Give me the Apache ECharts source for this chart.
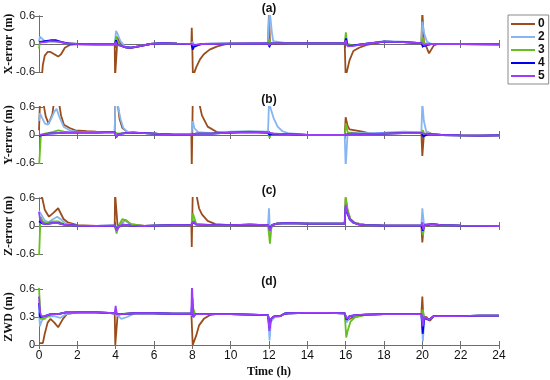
<!DOCTYPE html>
<html>
<head>
<meta charset="utf-8">
<script src="https://cdn.jsdelivr.net/npm/echarts@6/dist/echarts.min.js"></script>
<style>html,body{margin:0;padding:0;background:#fff}#c{width:550px;height:380px}</style>
</head>
<body>
<div id="c"></div>
<script>
// ---- data: [time (h), value (m)] ----
const timeTicks = [0,2,4,6,8,10,12,14,16,18,20,22,24];
const seriesNames = ['0','2','3','4','5'];
const panelTitles = ['(a)','(b)','(c)','(d)'];
const panelYNames = ['X-error (m)','Y-error (m)','Z-error (m)','ZWD (m)'];

// Panel (a) X-error
const xErr0 = [[0,-0.7],[0.15,-0.7],[0.2,-0.45],[0.3,-0.25],[0.45,-0.17],[0.6,-0.17],[0.8,-0.22],[1.0,-0.27],[1.15,-0.22],[1.35,-0.08],[1.6,-0.02],[2,0.0],[3,-0.01],[3.95,-0.01],[3.97,-0.7],[4.05,-0.7],[4.1,0.15],[4.2,0.05],[4.4,-0.06],[4.8,-0.09],[5.2,-0.05],[5.8,0.0],[6.5,0.02],[7.2,0.01],[7.95,0.0],[7.97,0.35],[8.0,-0.1],[8.03,-0.7],[8.1,-0.7],[8.2,-0.5],[8.4,-0.33],[8.6,-0.22],[8.9,-0.12],[9.3,-0.05],[9.8,0.0],[10,0.01],[11.95,0.015],[12.0,0.7],[12.05,0.0],[13,0.015],[15.95,0.015],[16.0,-0.7],[16.1,-0.7],[16.2,-0.35],[16.4,-0.15],[16.7,-0.08],[17.1,-0.02],[18,0.05],[19,0.04],[19.95,0.02],[20.0,0.7],[20.08,0.05],[20.2,-0.05],[20.35,-0.2],[20.45,-0.18],[20.6,-0.03],[20.8,0.0],[22,0.0],[24,-0.005]];
const xErr2 = [[0,0.05],[0.05,0.16],[0.15,0.12],[0.3,0.06],[0.6,0.06],[1.0,0.05],[1.4,0.02],[2,0.0],[3,-0.01],[3.95,-0.01],[4.02,0.28],[4.1,0.22],[4.25,0.06],[4.5,-0.06],[4.8,-0.08],[5.2,-0.05],[5.8,0.0],[6.5,0.02],[7.2,0.01],[7.95,0.0],[8.02,0.05],[8.1,-0.03],[8.5,0.0],[10,0.01],[11.95,0.015],[12.02,0.7],[12.08,0.55],[12.15,0.25],[12.22,0.06],[12.3,0.02],[13,0.015],[15.95,0.015],[16.03,0.08],[16.15,-0.04],[16.4,-0.03],[17,0.0],[18,0.06],[19,0.05],[19.95,0.02],[20.0,0.48],[20.1,0.22],[20.25,0.04],[20.5,0.0],[22,0.0],[24,-0.005]];
const xErr3 = [[0,-0.1],[0.05,0.05],[0.3,0.04],[0.6,0.06],[1.0,0.05],[1.4,0.02],[2,0.0],[3,-0.01],[3.95,-0.01],[4.03,0.17],[4.1,0.05],[4.25,-0.03],[4.5,-0.07],[4.8,-0.08],[5.2,-0.05],[5.8,0.0],[6.5,0.02],[7.2,0.01],[7.95,0.0],[8.03,-0.03],[8.15,-0.06],[8.3,-0.02],[8.5,0.0],[10,0.01],[11.95,0.015],[12.02,0.1],[12.08,0.02],[12.2,0.015],[13,0.015],[15.95,0.015],[16.01,0.25],[16.08,0.0],[16.4,-0.03],[17,0.0],[18,0.05],[19,0.04],[19.95,0.02],[20.02,0.15],[20.1,0.0],[20.5,0.0],[22,0.0],[24,-0.005]];
const xErr4 = [[0,0.04],[0.3,0.06],[0.6,0.08],[0.9,0.08],[1.2,0.04],[1.6,0.01],[2,0.0],[3,-0.01],[3.95,-0.01],[4.02,0.08],[4.08,-0.02],[4.2,-0.03],[4.5,-0.07],[4.8,-0.08],[5.2,-0.05],[5.8,0.0],[6.5,0.02],[7.2,0.01],[7.95,0.0],[8.02,-0.12],[8.1,-0.05],[8.5,0.0],[10,0.01],[11.95,0.015],[12.02,-0.06],[12.1,0.015],[13,0.015],[15.95,0.015],[16.02,0.12],[16.1,-0.04],[16.4,-0.03],[17,0.0],[18,0.05],[19,0.04],[19.95,0.02],[20.02,-0.05],[20.1,-0.02],[20.5,0.0],[22,0.0],[24,-0.005]];
const xErr5 = [[0,0.03],[0.3,0.04],[0.6,0.06],[1.0,0.05],[1.4,0.02],[2,0.0],[3,-0.01],[3.95,-0.01],[4.0,0.05],[4.05,-0.02],[4.2,-0.03],[4.5,-0.07],[4.8,-0.08],[5.2,-0.05],[5.8,0.0],[6.5,0.02],[7.2,0.01],[7.95,0.0],[8.0,-0.04],[8.1,-0.02],[8.5,0.0],[10,0.01],[11.95,0.015],[12.0,-0.03],[12.1,0.015],[13,0.015],[15.95,0.015],[16.0,0.08],[16.1,-0.05],[16.4,-0.04],[17,0.0],[18,0.05],[19,0.04],[19.95,0.02],[20.0,0.06],[20.1,-0.02],[20.5,0.0],[22,0.0],[24,-0.005]];

// Panel (b) Y-error
const yErr0 = [[0,0.1],[0.05,0.7],[0.22,0.7],[0.35,0.4],[0.5,0.24],[0.6,0.27],[0.7,0.45],[0.78,0.7],[1.04,0.7],[1.15,0.42],[1.3,0.22],[1.6,0.15],[1.9,0.1],[2.5,0.08],[3,0.07],[3.95,0.06],[3.98,0.7],[4.1,0.7],[4.2,0.35],[4.35,0.15],[4.6,0.07],[5,0.05],[6,0.03],[7,0.01],[7.95,0.01],[7.97,-0.7],[8.02,0.7],[8.35,0.7],[8.5,0.42],[8.8,0.18],[9.3,0.06],[10,0.05],[11,0.06],[11.95,0.05],[12.03,0.02],[12.2,0.03],[13,0.02],[14,0.0],[15,0.0],[15.95,0.0],[16.0,0.38],[16.1,0.2],[16.2,0.12],[16.8,0.08],[17.2,0.04],[18,0.03],[19,0.04],[19.95,0.04],[20.0,-0.45],[20.08,0.0],[20.3,0.06],[20.5,0.02],[21,0.0],[22,-0.01],[23,-0.015],[24,-0.01]];
const yErr2 = [[0,0.3],[0.05,0.47],[0.15,0.38],[0.3,0.25],[0.45,0.22],[0.6,0.32],[0.8,0.5],[0.92,0.56],[1.05,0.4],[1.3,0.17],[1.6,0.1],[2,0.07],[3,0.06],[3.95,0.06],[3.98,0.7],[4.12,0.62],[4.25,0.35],[4.4,0.15],[4.6,0.07],[5,0.05],[6,0.03],[7,0.01],[7.95,0.01],[8.03,0.3],[8.1,0.15],[8.3,0.06],[9,0.04],[10,0.07],[11,0.08],[11.95,0.07],[12.0,0.7],[12.1,0.55],[12.25,0.35],[12.45,0.18],[12.7,0.08],[13,0.04],[14,0.0],[15,0.0],[15.95,0.0],[16.0,-0.7],[16.06,-0.7],[16.1,0.04],[16.3,0.05],[17,0.04],[18,0.05],[19,0.07],[19.95,0.06],[20.0,0.7],[20.08,0.3],[20.2,0.08],[20.4,0.03],[21,0.0],[22,-0.01],[23,-0.015],[24,-0.01]];
const yErr3 = [[0,-0.7],[0.05,-0.7],[0.1,0.0],[0.3,0.03],[0.7,0.06],[1.0,0.1],[1.3,0.07],[1.6,0.05],[2,0.05],[3,0.05],[3.95,0.06],[4.03,0.1],[4.1,0.03],[4.5,0.04],[5,0.05],[6,0.03],[7,0.01],[7.95,0.01],[8.03,0.05],[8.2,0.03],[9,0.03],[10,0.06],[11,0.07],[11.95,0.05],[12.03,-0.06],[12.1,0.02],[12.2,0.03],[13,0.02],[14,0.0],[15,0.0],[15.95,0.0],[16.02,0.25],[16.1,0.06],[16.3,0.04],[17,0.02],[18,0.03],[19,0.05],[19.95,0.05],[20.03,0.1],[20.1,0.02],[20.3,0.02],[21,0.0],[22,-0.01],[23,-0.015],[24,-0.01]];
const yErr4 = [[0,-0.02],[0.1,0.01],[0.5,0.03],[1.0,0.04],[1.5,0.05],[2,0.05],[3,0.05],[3.95,0.06],[4.03,-0.05],[4.15,0.02],[4.5,0.04],[5,0.05],[6,0.03],[7,0.01],[7.95,0.01],[8.03,-0.02],[8.2,0.03],[9,0.03],[10,0.05],[11,0.06],[11.95,0.05],[12.03,0.0],[12.2,0.03],[13,0.02],[14,0.0],[15,0.0],[15.95,0.0],[16.05,0.04],[16.3,0.03],[17,0.02],[18,0.03],[19,0.04],[19.95,0.04],[20.05,-0.03],[20.3,0.02],[21,0.0],[22,-0.01],[23,-0.015],[24,-0.01]];
const yErr5 = [[0,0.0],[0.1,0.02],[0.5,0.03],[1.0,0.04],[1.5,0.05],[2,0.05],[3,0.05],[3.95,0.06],[4.03,-0.04],[4.15,0.02],[4.5,0.04],[5,0.05],[6,0.03],[7,0.01],[7.95,0.01],[8.03,-0.01],[8.2,0.03],[9,0.03],[10,0.05],[11,0.06],[11.95,0.05],[12.03,0.02],[12.2,0.03],[13,0.02],[14,0.0],[15,0.0],[15.95,0.0],[16.05,0.02],[16.3,0.03],[17,0.02],[18,0.03],[19,0.04],[19.95,0.04],[20.05,0.0],[20.3,0.02],[21,0.0],[22,-0.01],[23,-0.015],[24,-0.01]];

// Panel (c) Z-error
const zErr0 = [[0,0.7],[0.17,0.6],[0.3,0.35],[0.52,0.2],[0.75,0.28],[1.0,0.38],[1.1,0.35],[1.28,0.15],[1.5,0.08],[2,0.02],[3,0.0],[3.95,0.01],[3.97,0.7],[4.05,0.7],[4.1,0.0],[4.3,0.06],[4.5,0.13],[4.8,0.04],[5.5,0.0],[6,0.01],[7,0.02],[7.95,0.02],[7.97,-0.45],[8.02,0.7],[8.2,0.7],[8.35,0.38],[8.5,0.25],[8.8,0.11],[9.2,0.04],[10,0.02],[11,0.03],[11.95,0.02],[12.05,-0.05],[12.2,0.03],[12.4,0.05],[13,0.06],[14,0.05],[15,0.05],[15.95,0.05],[16.0,0.6],[16.1,0.32],[16.25,0.13],[16.5,0.06],[17,0.03],[18,0.01],[19,0.01],[19.95,0.01],[20.0,-0.35],[20.07,0.0],[20.5,0.04],[21,0.02],[22,0.01],[24,0.0]];
const zErr2 = [[0,0.32],[0.1,0.26],[0.3,0.12],[0.5,0.08],[0.7,0.14],[0.95,0.2],[1.15,0.14],[1.4,0.05],[2,0.01],[3,0.0],[3.95,0.01],[4.05,-0.05],[4.15,0.0],[4.35,0.1],[4.55,0.1],[4.8,0.02],[5.5,0.0],[6,0.01],[7,0.02],[7.95,0.02],[8.03,0.15],[8.2,0.04],[9,0.02],[10,0.02],[11,0.03],[11.95,0.02],[12.0,0.38],[12.05,-0.15],[12.12,0.0],[12.4,0.05],[13,0.06],[14,0.05],[15,0.05],[15.95,0.05],[16.0,0.5],[16.1,0.3],[16.25,0.14],[16.5,0.06],[17,0.02],[18,0.01],[19,0.01],[19.95,0.01],[20.0,0.38],[20.08,0.05],[20.5,0.04],[21,0.02],[22,0.01],[24,0.0]];
const zErr3 = [[0,-0.7],[0.04,-0.7],[0.08,0.2],[0.2,0.1],[0.4,0.06],[0.7,0.1],[1.0,0.1],[1.3,0.04],[2,0.01],[3,0.0],[3.95,0.01],[4.05,-0.16],[4.15,0.0],[4.35,0.15],[4.55,0.12],[4.8,0.03],[5.5,0.0],[6,0.01],[7,0.02],[7.95,0.02],[8.03,0.27],[8.2,0.05],[9,0.02],[10,0.02],[11,0.03],[11.95,0.02],[12.05,-0.38],[12.12,-0.05],[12.2,0.02],[12.4,0.05],[13,0.06],[14,0.05],[15,0.05],[15.95,0.05],[16.0,0.62],[16.1,0.35],[16.25,0.15],[16.5,0.06],[17,0.02],[18,0.01],[19,0.01],[19.95,0.01],[20.03,-0.2],[20.1,0.0],[20.5,0.04],[21,0.02],[22,0.01],[24,0.0]];
const zErr4 = [[0,0.1],[0.05,0.12],[0.2,0.05],[0.4,0.04],[0.7,0.06],[1.0,0.06],[1.3,0.03],[2,0.01],[3,0.0],[3.95,0.01],[4.05,-0.08],[4.15,-0.02],[4.4,0.03],[4.8,0.01],[5.5,0.0],[6,0.01],[7,0.02],[7.95,0.02],[8.05,0.08],[8.2,0.03],[9,0.02],[10,0.02],[11,0.03],[11.95,0.02],[12.05,-0.06],[12.15,0.02],[12.4,0.05],[13,0.06],[14,0.05],[15,0.05],[15.95,0.05],[16.0,0.4],[16.1,0.26],[16.2,0.15],[16.4,0.07],[16.7,0.03],[17,0.02],[18,0.01],[19,0.01],[19.95,0.01],[20.02,-0.1],[20.12,0.02],[20.5,0.04],[21,0.02],[22,0.01],[24,0.0]];
const zErr5 = [[0,0.3],[0.05,0.15],[0.2,0.06],[0.4,0.04],[0.7,0.06],[1.0,0.06],[1.3,0.03],[2,0.01],[3,0.0],[3.95,0.01],[4.05,-0.1],[4.15,-0.02],[4.4,0.03],[4.8,0.01],[5.5,0.0],[6,0.01],[7,0.02],[7.95,0.02],[8.05,0.1],[8.2,0.03],[9,0.02],[10,0.02],[11,0.03],[11.95,0.02],[12.05,-0.1],[12.15,0.02],[12.4,0.05],[13,0.06],[14,0.05],[15,0.05],[15.95,0.05],[16.0,0.45],[16.1,0.28],[16.2,0.16],[16.4,0.07],[16.7,0.03],[17,0.02],[18,0.01],[19,0.01],[19.95,0.01],[20.0,0.08],[20.05,-0.08],[20.12,0.02],[20.5,0.04],[21,0.02],[22,0.01],[24,0.0]];

// Panel (d) ZWD
const zwd0 = [[0,0.02],[0.2,0.02],[0.3,0.12],[0.45,0.24],[0.6,0.28],[0.8,0.24],[1.0,0.19],[1.1,0.2],[1.25,0.28],[1.45,0.33],[2,0.35],[3,0.35],[3.95,0.34],[3.98,0.0],[4.05,0.0],[4.1,0.32],[4.3,0.33],[5,0.34],[6,0.34],[7,0.335],[7.95,0.335],[8.02,0.0],[8.12,0.0],[8.2,0.1],[8.35,0.21],[8.6,0.28],[8.9,0.32],[9.2,0.33],[10,0.33],[11,0.325],[11.95,0.32],[12.05,0.25],[12.2,0.3],[12.6,0.31],[12.8,0.335],[13,0.34],[14,0.345],[15,0.345],[15.95,0.34],[16.05,0.26],[16.3,0.29],[16.7,0.31],[17,0.325],[18,0.33],[19,0.33],[19.95,0.33],[20.0,0.52],[20.05,0.3],[20.2,0.3],[20.4,0.26],[20.6,0.31],[21,0.31],[22,0.31],[23,0.315],[24,0.315]];
const zwd2 = [[0,0.35],[0.05,0.2],[0.12,0.25],[0.3,0.3],[0.8,0.31],[1.1,0.29],[1.4,0.33],[2,0.35],[3,0.35],[3.95,0.34],[4.05,0.33],[4.3,0.28],[4.6,0.3],[5,0.34],[6,0.34],[7,0.335],[7.95,0.335],[8.05,0.3],[8.15,0.33],[9,0.33],[10,0.33],[11,0.325],[11.95,0.32],[12.03,0.05],[12.1,0.25],[12.3,0.3],[12.6,0.31],[12.8,0.335],[13,0.34],[14,0.345],[15,0.345],[15.95,0.34],[16.05,0.24],[16.2,0.3],[16.5,0.32],[17,0.325],[18,0.33],[19,0.33],[19.95,0.33],[20.03,0.04],[20.1,0.28],[20.35,0.27],[20.6,0.31],[21,0.31],[22,0.31],[23,0.315],[24,0.315]];
const zwd3 = [[0,0.62],[0.06,0.62],[0.08,0.28],[0.3,0.28],[0.45,0.31],[0.8,0.33],[1.0,0.33],[1.4,0.35],[2,0.35],[3,0.35],[3.95,0.34],[4.03,0.36],[4.1,0.33],[5,0.34],[6,0.34],[7,0.335],[7.95,0.335],[8.03,0.4],[8.15,0.33],[9,0.33],[10,0.33],[11,0.325],[11.95,0.32],[12.03,0.22],[12.1,0.28],[12.3,0.31],[12.6,0.31],[12.8,0.335],[13,0.34],[14,0.345],[15,0.345],[15.95,0.34],[16.03,0.08],[16.1,0.15],[16.25,0.25],[16.5,0.3],[17,0.32],[18,0.33],[19,0.33],[19.95,0.33],[20.02,0.38],[20.1,0.3],[20.35,0.27],[20.6,0.31],[21,0.31],[22,0.31],[23,0.315],[24,0.315]];
const zwd4 = [[0,0.45],[0.05,0.3],[0.15,0.3],[0.3,0.31],[0.6,0.33],[1.0,0.33],[1.4,0.35],[2,0.35],[3,0.35],[3.95,0.34],[4.02,0.38],[4.05,0.33],[4.3,0.33],[5,0.34],[6,0.34],[7,0.335],[7.95,0.335],[8.0,0.5],[8.05,0.3],[8.15,0.33],[9,0.33],[10,0.33],[11,0.325],[11.95,0.32],[12.02,0.18],[12.1,0.28],[12.3,0.31],[12.6,0.31],[12.8,0.335],[13,0.34],[14,0.345],[15,0.345],[15.95,0.34],[16.05,0.27],[16.2,0.31],[16.5,0.32],[17,0.325],[18,0.33],[19,0.33],[19.95,0.33],[20.02,0.12],[20.1,0.29],[20.35,0.27],[20.6,0.31],[21,0.31],[22,0.31],[23,0.315],[24,0.315]];
const zwd5 = [[0,0.52],[0.05,0.35],[0.15,0.3],[0.3,0.31],[0.6,0.33],[1.0,0.33],[1.4,0.35],[2,0.35],[3,0.35],[3.95,0.34],[4.0,0.42],[4.05,0.33],[4.3,0.33],[5,0.34],[6,0.34],[7,0.335],[7.95,0.335],[7.98,0.65],[8.05,0.3],[8.15,0.33],[9,0.33],[10,0.33],[11,0.325],[11.95,0.32],[12.02,0.15],[12.1,0.28],[12.3,0.31],[12.6,0.31],[12.8,0.335],[13,0.34],[14,0.345],[15,0.345],[15.95,0.34],[16.05,0.28],[16.2,0.31],[16.5,0.32],[17,0.325],[18,0.33],[19,0.33],[19.95,0.33],[20.02,0.2],[20.1,0.3],[20.2,0.29],[20.35,0.27],[20.6,0.31],[21,0.31],[22,0.31],[23,0.315],[24,0.315]];

const panelData = [
  [xErr0, xErr2, xErr3, xErr4, xErr5],
  [yErr0, yErr2, yErr3, yErr4, yErr5],
  [zErr0, zErr2, zErr3, zErr4, zErr5],
  [zwd0, zwd2, zwd3, zwd4, zwd5]
];
const yRanges = [[-0.6,0.6,0.6],[-0.6,0.6,0.6],[-0.6,0.6,0.6],[0,0.6,0.3]];

// ---- styles ----
const colors = ['#9a4d1c','#86b6f2','#66bf1e','#0000ee','#9b3dfb'];
const axisColor = '#6e6e6e';
const textColor = '#111';
const sans = '"Liberation Sans", Arial, sans-serif';
const serif = '"Liberation Serif", "Times New Roman", serif';
const gridTops = [16, 107, 198, 289];
const gridH = 56;

const chart = echarts.init(document.getElementById('c'), null, {renderer:'canvas'});
const grid = [], xAxis = [], yAxis = [], series = [], graphic = [];
for (let i = 0; i < 4; i++) {
  grid.push({left: 39, right: 51, top: gridTops[i], height: gridH, show: false, containLabel: false, outerBoundsMode: 'none'});
  const tickCommon = {show: true, inside: true, length: 4, lineStyle: {color: axisColor, width: 1}};
  xAxis.push({
    type: 'value', gridIndex: i, min: 0, max: 24, interval: 2, position: 'bottom',
    axisLine: {show: true, lineStyle: {color: axisColor, width: 1}},
    axisTick: tickCommon,
    axisLabel: {show: i === 3, color: textColor, fontSize: 12, fontFamily: sans, margin: 5},
    splitLine: {show: false},
    name: i === 3 ? 'Time (h)' : '', nameLocation: 'middle', nameGap: 21, nameMoveOverlap: false,
    nameTextStyle: {fontFamily: serif, fontWeight: 'bold', fontSize: 12, color: textColor}
  });
  xAxis.push({
    type: 'value', gridIndex: i, min: 0, max: 24, interval: 2, position: 'top',
    axisLine: {show: true, lineStyle: {color: axisColor, width: 1}},
    axisTick: tickCommon, axisLabel: {show: false}, splitLine: {show: false}
  });
  const [ymin, ymax, yint] = yRanges[i];
  yAxis.push({
    type: 'value', gridIndex: i, min: ymin, max: ymax, interval: yint, position: 'left',
    axisLine: {show: true, lineStyle: {color: axisColor, width: 1}},
    axisTick: tickCommon,
    axisLabel: {color: textColor, fontSize: 11, fontFamily: sans, margin: 4},
    splitLine: {show: false},
    name: panelYNames[i], nameLocation: 'middle', nameGap: 24, nameRotate: 90, nameMoveOverlap: false,
    nameTextStyle: {fontFamily: serif, fontWeight: 'bold', fontSize: 12, color: textColor}
  });
  yAxis.push({
    type: 'value', gridIndex: i, min: ymin, max: ymax, interval: yint, position: 'right',
    axisLine: {show: true, lineStyle: {color: axisColor, width: 1}},
    axisTick: tickCommon, axisLabel: {show: false}, splitLine: {show: false}
  });
  panelData[i].forEach((d, k) => {
    series.push({
      type: 'line', name: seriesNames[k], xAxisIndex: 2*i, yAxisIndex: 2*i,
      data: d, symbol: 'none', showSymbol: false, clip: true, z: 2 + k,
      lineStyle: {color: colors[k], width: 1.8}, itemStyle: {color: colors[k]},
      emphasis: {disabled: true}
    });
  });
  graphic.push({
    type: 'text', x: 269, y: gridTops[i] - 7,
    style: {text: panelTitles[i], font: 'bold 12px ' + sans, fill: textColor, textAlign: 'center', textVerticalAlign: 'middle'}
  });
}

chart.setOption({
  animation: false,
  backgroundColor: '#fff',
  grid, xAxis, yAxis, series, graphic,
  legend: {
    data: seriesNames, orient: 'vertical', left: 508, top: 15,
    padding: [3, 4, 2, 3], itemWidth: 24, itemHeight: 14, itemGap: 1,
    icon: 'path://M0,0 L24,0 L24,2 L0,2 Z',
    borderColor: '#8a8a8a', borderWidth: 1, backgroundColor: '#fff',
    textStyle: {fontFamily: sans, fontWeight: 'bold', fontSize: 12, color: textColor, padding: [0,0,0,-2]},
    selectedMode: false
  }
});
</script>
</body>
</html>
